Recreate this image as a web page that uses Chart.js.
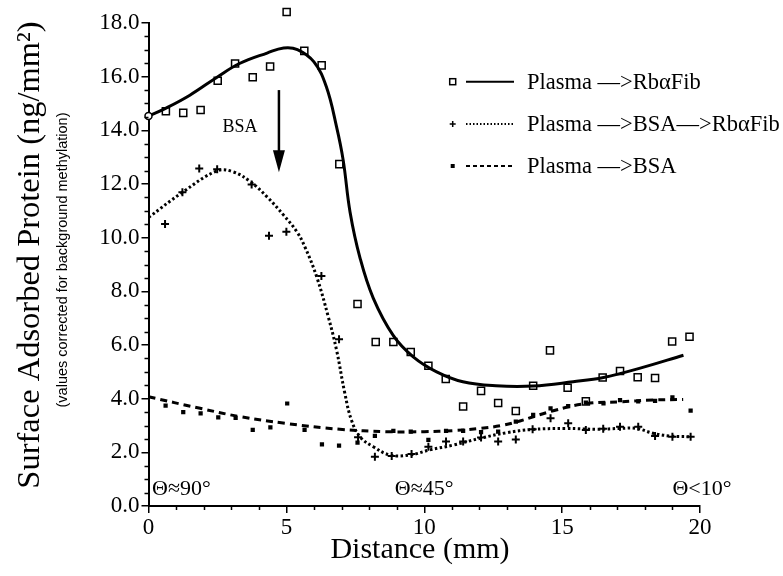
<!DOCTYPE html>
<html>
<head>
<meta charset="utf-8">
<script src="https://cdn.jsdelivr.net/npm/chart.js@4.4.1/dist/chart.umd.min.js"></script>
<style>
  html, body { margin: 0; padding: 0; background: #fff; }
  #wrap { width: 783px; height: 576px; }
</style>
</head>
<body>
<div id="wrap"><canvas id="c" width="783" height="576"></canvas></div>
<script>
// Measured adsorption along the gradient (distance in mm, protein in ng/mm^2)

// Plasma --> RbαFib (open squares)
const fibX = [0.00, 0.63, 1.26, 1.89, 2.51, 3.14, 3.78, 4.41, 5.01, 5.65, 6.28, 6.92, 7.58, 8.24, 8.88, 9.51,
              10.15, 10.78, 11.41, 12.06, 12.68, 13.32, 13.95, 14.56, 15.20, 15.86, 16.47, 17.10, 17.74, 18.37, 18.99, 19.62];
const fibY = [14.53, 14.71, 14.65, 14.76, 15.85, 16.49, 15.98, 16.38, 18.41, 16.96, 16.42, 12.74, 7.53, 6.11, 6.11, 5.74,
              5.23, 4.73, 3.71, 4.29, 3.84, 3.54, 4.48, 5.80, 4.41, 3.90, 4.79, 5.03, 4.80, 4.77, 6.13, 6.31];

// Plasma --> BSA --> RbαFib (crosses)
const bsaFibX = [0.60, 1.23, 1.84, 2.49, 3.74, 4.37, 5.00, 6.27, 6.91, 7.60, 8.21, 8.82, 9.54, 10.15, 10.79, 11.41,
                 12.06, 12.68, 13.32, 13.93, 14.58, 15.22, 15.86, 16.49, 17.10, 17.76, 18.37, 19.00, 19.66];
const bsaFibY = [10.51, 11.69, 12.58, 12.55, 11.98, 10.07, 10.22, 8.57, 6.21, 2.56, 1.84, 1.86, 1.94, 2.21, 2.40, 2.40,
                 2.55, 2.40, 2.48, 2.86, 3.27, 3.08, 2.83, 2.88, 2.95, 2.95, 2.61, 2.58, 2.58];

// Plasma --> BSA (small filled squares)
const bsaX = [0.62, 1.26, 1.89, 2.53, 3.16, 3.78, 4.42, 5.03, 5.66, 6.29, 6.91, 7.58, 8.21, 8.88, 9.51, 10.15,
              10.79, 11.41, 12.06, 12.68, 13.32, 13.95, 14.58, 15.22, 15.86, 16.50, 17.10, 17.76, 18.37, 19.00, 19.66];
const bsaY = [3.74, 3.50, 3.45, 3.30, 3.28, 2.84, 2.93, 3.82, 2.84, 2.30, 2.25, 2.36, 2.61, 2.80, 2.77, 2.46,
              2.80, 2.80, 2.75, 2.77, 3.14, 3.40, 3.64, 3.72, 3.85, 3.82, 3.95, 3.90, 3.92, 4.05, 3.55];

// Smoothed trend curves
const fibFitX = [0, 0.6, 1.5, 2.5, 3.3, 4.3, 4.9, 5.4, 6.0, 6.45, 6.82, 7.06, 7.31, 7.67, 8.15, 8.88,
                 9.6, 10.45, 11.4, 12.6, 13.95, 15.4, 16.5, 17.8, 19.4];
const fibFitY = [14.53, 14.81, 15.31, 15.99, 16.49, 16.88, 17.07, 17.01, 16.55, 15.62, 14.13, 12.89, 10.95, 9.25, 7.75, 6.35,
                 5.56, 5.00, 4.63, 4.48, 4.47, 4.63, 4.79, 5.13, 5.62];

const bsaFibFitX = [0, 1.23, 2.49, 3.08, 3.7, 4.3, 4.9, 5.38, 5.67, 6.1, 6.52, 6.82, 7.12, 7.36, 7.67, 8.15, 8.76,
                    9.49, 10.2, 11.05, 12.02, 12.98, 13.9, 15.12, 16.3, 17.1, 17.7, 18.3, 18.9, 19.6];
const bsaFibFitY = [10.75, 11.69, 12.49, 12.45, 12.08, 11.52, 10.84, 10.22, 9.66, 8.54, 7.05, 5.81, 4.20, 3.20, 2.58,
                    2.21, 1.90, 1.90, 2.09, 2.27, 2.52, 2.73, 2.85, 2.89, 2.86, 2.89, 2.89, 2.71, 2.61, 2.58];

const bsaFitX = [0, 1.87, 3.32, 4.97, 6.94, 8.64, 10.0, 11.05, 12.02, 12.8, 13.47, 14.68, 15.89, 17.1, 18.3, 19.39];
const bsaFitY = [4.07, 3.64, 3.33, 3.08, 2.86, 2.77, 2.77, 2.81, 2.89, 3.0, 3.17, 3.55, 3.82, 3.88, 3.95, 3.97];

// Axis ticks
const xTickStep = 5, xMinorStep = 1;
const yTickStep = 2, yMinorStep = 0.5;

const legendLabels = ['Plasma \u2014>Rb\u03b1Fib', 'Plasma \u2014>BSA\u2014>Rb\u03b1Fib', 'Plasma \u2014>BSA'];
const angleLabels = [
  { text: '\u0398\u224890\u00b0', x: 0.13, y: 0.63, align: 'left' },
  { text: '\u0398\u224845\u00b0', x: 10.0, y: 0.63, align: 'center' },
  { text: '\u0398<10\u00b0', x: 19.0, y: 0.63, align: 'left' }
];

const pts = (xs, ys) => xs.map((x, i) => ({ x: x, y: ys[i] }));

const SERIF = '"Liberation Serif", "Times New Roman", serif';
Chart.defaults.font.family = SERIF;
Chart.defaults.color = '#000';

// Markers lying above the top of the y range are still drawn
const overflowPoints = {
  id: 'overflowPoints',
  afterDatasetsDraw(chart) {
    const wide = { left: -1e4, top: -1e4, right: 1e4, bottom: 1e4 };
    const top = chart.chartArea.top;
    chart.getDatasetMeta(0).data.forEach(el => {
      if (el.y < top - 2) el.draw(chart.ctx, wide);
    });
  }
};

// Minor tick marks, extra labels, arrow, legend and axis titles
const decorations = {
  id: 'decorations',
  afterDraw(chart) {
    const ctx = chart.ctx;
    const xs = chart.scales.x, ys = chart.scales.y;
    const area = chart.chartArea;
    ctx.save();
    ctx.strokeStyle = '#000';
    ctx.fillStyle = '#000';
    ctx.lineWidth = 1.5;

    // minor ticks
    ctx.beginPath();
    for (let v = 0; v <= 18.001; v += yMinorStep) {
      if (Math.abs(v / yTickStep - Math.round(v / yTickStep)) < 1e-6) continue;
      const py = Math.round(ys.getPixelForValue(v)) + 0.5;
      ctx.moveTo(area.left - 4, py); ctx.lineTo(area.left, py);
    }
    for (let v = 0; v <= 20.001; v += xMinorStep) {
      if (Math.abs(v / xTickStep - Math.round(v / xTickStep)) < 1e-6) continue;
      const px = Math.round(xs.getPixelForValue(v)) + 0.5;
      ctx.moveTo(px, area.bottom); ctx.lineTo(px, area.bottom + 4);
    }
    ctx.stroke();

    // BSA arrow
    const ax = xs.getPixelForValue(4.73);
    const aTop = ys.getPixelForValue(15.5);
    const aTip = ys.getPixelForValue(12.44);
    ctx.lineWidth = 2.5;
    ctx.beginPath();
    ctx.moveTo(ax, aTop); ctx.lineTo(ax, aTip - 18);
    ctx.stroke();
    ctx.beginPath();
    ctx.moveTo(ax - 6, aTip - 22); ctx.lineTo(ax + 6, aTip - 22); ctx.lineTo(ax, aTip);
    ctx.closePath(); ctx.fill();

    ctx.font = '18px ' + SERIF;
    ctx.textAlign = 'center'; ctx.textBaseline = 'middle';
    ctx.fillText('BSA', xs.getPixelForValue(3.32), ys.getPixelForValue(14.12));

    // contact angle labels
    ctx.font = '22px ' + SERIF;
    angleLabels.forEach(l => {
      ctx.textAlign = l.align;
      ctx.fillText(l.text, xs.getPixelForValue(l.x), ys.getPixelForValue(l.y));
    });

    // legend
    const rows = [81.7, 124, 166];
    const mx = 452.7, l0 = 466, l1 = 514, tx = 527;
    rows.forEach((ry, i) => {
      ctx.setLineDash([]);
      ctx.lineWidth = 1.5;
      if (i === 0) {
        ctx.strokeRect(mx - 3, ry - 3, 6, 6);
      } else if (i === 1) {
        ctx.beginPath();
        ctx.moveTo(mx - 3, ry); ctx.lineTo(mx + 3, ry);
        ctx.moveTo(mx, ry - 3); ctx.lineTo(mx, ry + 3);
        ctx.stroke();
      } else {
        ctx.fillRect(mx - 2, ry - 2, 4, 4);
      }
      ctx.lineWidth = 2;
      ctx.setLineDash(i === 0 ? [] : (i === 1 ? [1.5, 2] : [4, 3]));
      ctx.beginPath();
      ctx.moveTo(l0, ry); ctx.lineTo(l1, ry);
      ctx.stroke();
      ctx.setLineDash([]);
      ctx.font = '22.5px ' + SERIF;
      ctx.textAlign = 'left'; ctx.textBaseline = 'middle';
      ctx.fillText(legendLabels[i], tx, ry + 1);
    });

    // axis titles
    ctx.font = '30px ' + SERIF;
    ctx.textAlign = 'center'; ctx.textBaseline = 'middle';
    ctx.fillText('Distance (mm)', 420, 550);

    ctx.save();
    ctx.translate(30, 255);
    ctx.rotate(-Math.PI / 2);
    ctx.font = '32.5px ' + SERIF;
    ctx.fillText('Surface Adsorbed Protein (ng/mm\u00b2)', 0, 0);
    ctx.restore();

    ctx.save();
    ctx.translate(63, 260);
    ctx.rotate(-Math.PI / 2);
    ctx.font = '14.5px "Liberation Sans Narrow", "Liberation Sans", sans-serif';
    ctx.fillText('(values corrected for background methylation)', 0, 0);
    ctx.restore();

    ctx.restore();
  }
};

new Chart(document.getElementById('c'), {
  type: 'scatter',
  data: {
    datasets: [
      {
        label: 'Plasma \u2014>Rb\u03b1Fib',
        data: pts(fibX, fibY),
        clip: false,
        pointStyle: c => (c.dataIndex === 0 ? 'circle' : 'rect'),
        pointRadius: c => (c.dataIndex === 0 ? 3.5 : 5),
        pointBorderWidth: 1.5,
        pointBorderColor: '#000',
        pointBackgroundColor: c => (c.dataIndex === 0 ? '#fff' : 'rgba(0,0,0,0)'),
        showLine: false
      },
      {
        label: 'Plasma \u2014>BSA\u2014>Rb\u03b1Fib',
        data: pts(bsaFibX, bsaFibY),
        pointStyle: 'cross',
        pointRadius: 4,
        pointBorderWidth: 2,
        pointBorderColor: '#000',
        showLine: false
      },
      {
        label: 'Plasma \u2014>BSA',
        data: pts(bsaX, bsaY),
        pointStyle: 'rect',
        pointRadius: 3,
        pointBorderWidth: 0,
        pointBackgroundColor: '#000',
        showLine: false
      },
      {
        label: 'fit RbαFib',
        data: pts(fibFitX, fibFitY),
        showLine: true,
        pointRadius: 0,
        borderColor: '#000',
        borderWidth: 3,
        tension: 0.4
      },
      {
        label: 'fit BSA-RbαFib',
        data: pts(bsaFibFitX, bsaFibFitY),
        showLine: true,
        pointRadius: 0,
        borderColor: '#000',
        borderWidth: 3,
        borderDash: [2.5, 2.5],
        tension: 0.4
      },
      {
        label: 'fit BSA',
        data: pts(bsaFitX, bsaFitY),
        showLine: true,
        pointRadius: 0,
        borderColor: '#000',
        borderWidth: 3,
        borderDash: [7, 5],
        tension: 0.4
      }
    ]
  },
  options: {
    responsive: false,
    animation: false,
    events: [],
    layout: { padding: { top: 23, right: 83, left: 0, bottom: 0 } },
    plugins: {
      legend: { display: false },
      tooltip: { enabled: false }
    },
    scales: {
      x: {
        type: 'linear',
        min: 0, max: 20,
        afterFit: s => { s.height = 70; },
        border: { display: true, color: '#000', width: 2 },
        grid: { display: true, drawOnChartArea: false, drawTicks: true, tickLength: 7, color: '#000', lineWidth: 1.5 },
        ticks: { stepSize: xTickStep, font: { size: 23 }, color: '#000', padding: 1, maxRotation: 0 }
      },
      y: {
        type: 'linear',
        min: 0, max: 18,
        afterFit: s => { s.width = 148.5; },
        border: { display: true, color: '#000', width: 2 },
        grid: { display: true, drawOnChartArea: false, drawTicks: true, tickLength: 7, color: '#000', lineWidth: 1.5 },
        ticks: { stepSize: yTickStep, font: { size: 23 }, color: '#000', padding: 2, callback: v => v.toFixed(1) }
      }
    }
  },
  plugins: [overflowPoints, decorations]
});
</script>
</body>
</html>
